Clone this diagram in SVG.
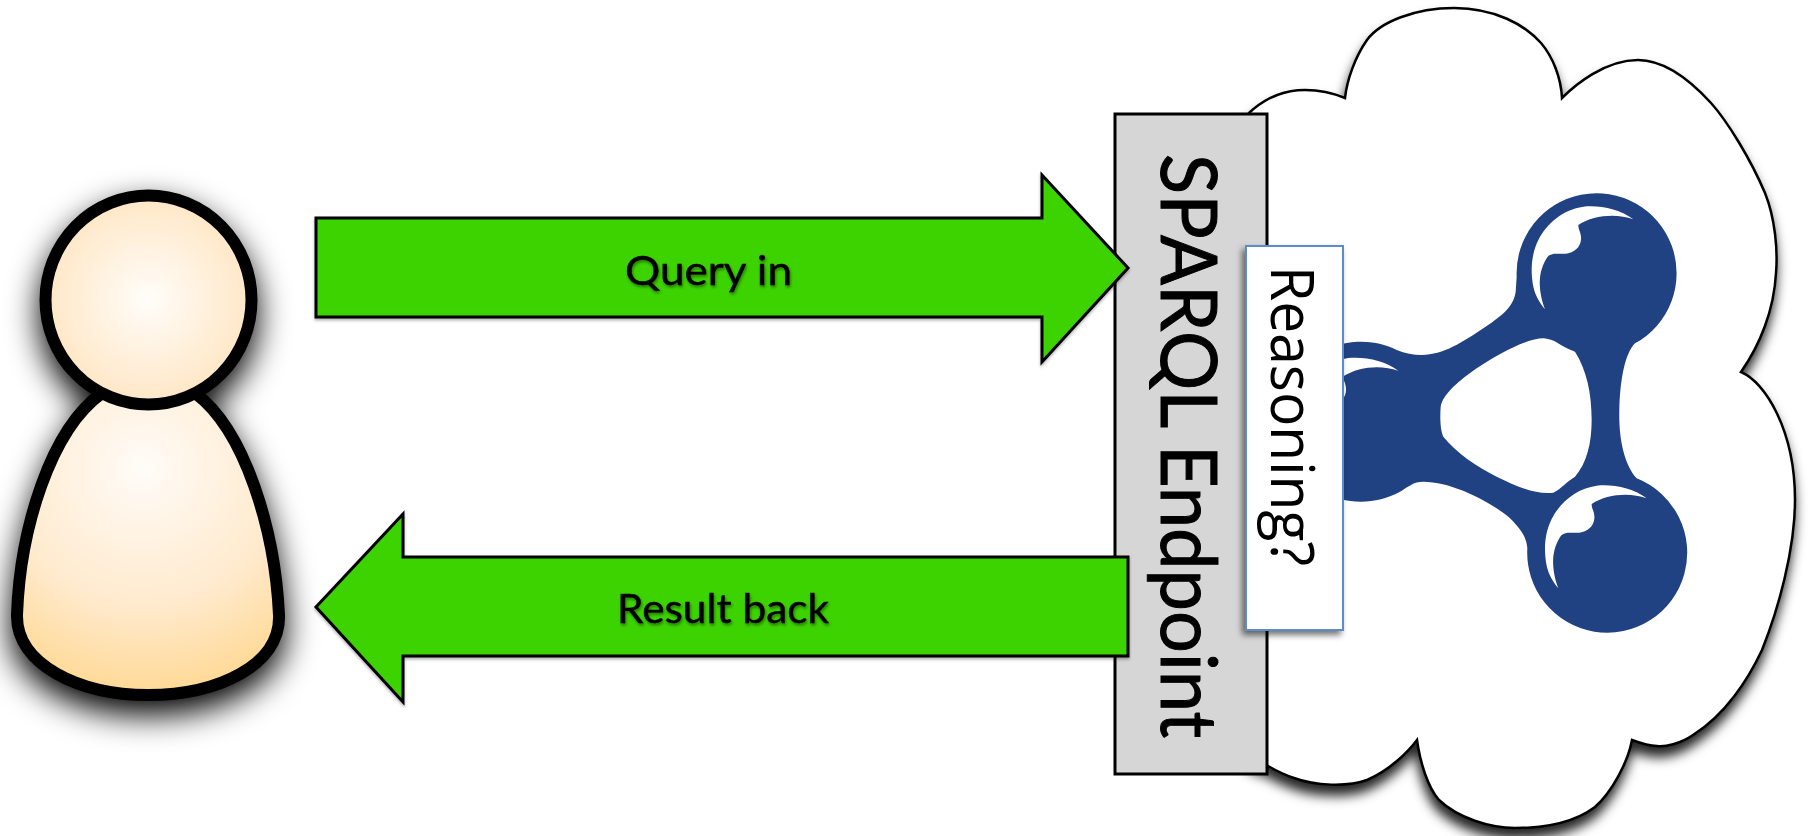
<svg xmlns="http://www.w3.org/2000/svg" xmlns:xlink="http://www.w3.org/1999/xlink" width="1808" height="836" viewBox="0 0 1808 836">
<style>
.arrow{fill:#3dd300;stroke:#000;stroke-width:3;stroke-linejoin:miter;filter:url(#small)}
.lbl{font-family:"Lato","Liberation Sans",sans-serif;fill:#000}
.person{stroke:#000;stroke-width:12}
.hl{fill:#fff}
</style>
<defs>
<filter id="big" x="-30%" y="-25%" width="160%" height="155%"><feDropShadow dx="0" dy="14" stdDeviation="16" flood-color="#000" flood-opacity="1"/></filter>
<filter id="cl" x="-10%" y="-10%" width="120%" height="120%"><feDropShadow dx="-1" dy="10" stdDeviation="6" flood-color="#000" flood-opacity=".85"/></filter>
<filter id="small" x="-5%" y="-10%" width="110%" height="120%"><feDropShadow dx="0" dy="2" stdDeviation="1.500" flood-color="#000" flood-opacity=".3"/></filter>
<filter id="box" x="-20%" y="-10%" width="140%" height="120%"><feDropShadow dx="-3" dy="4" stdDeviation="3" flood-color="#000" flood-opacity=".55"/></filter>
<filter id="ts" x="-10%" y="-20%" width="120%" height="140%"><feDropShadow dx="1" dy="2" stdDeviation="1.500" flood-color="#000" flood-opacity=".45"/></filter>
<radialGradient id="head" gradientUnits="userSpaceOnUse" cx="148" cy="299" r="108"><stop offset="0" stop-color="#fffdfa"/><stop offset="1" stop-color="#ffe6c4"/></radialGradient>
<radialGradient id="body" gradientUnits="userSpaceOnUse" cx="143" cy="468" r="232"><stop offset="0" stop-color="#fffcf8"/><stop offset=".6" stop-color="#ffeacd"/><stop offset="1" stop-color="#ffd892"/></radialGradient>
<path id="shine" class="hl" d="M910 118C870 88 810 75 760 80C700 88 650 130 625 180C605 220 600 270 610 320C615 345 630 370 645 388C632 355 625 310 632 280C636 260 645 240 655 228C670 215 695 225 715 220C745 212 755 190 753 170C752 155 745 150 745 135C790 105 860 100 910 118Z"/>
</defs>
<rect width="1808" height="836" fill="#fff"/>
<g id="cloud">
<path filter="url(#cl)" fill="#fff" stroke="#000" stroke-width="2.500" d="M1249 113C1265 98 1285 90 1305 90C1320 90 1333 93 1345 98C1347 80 1355 57 1367 40C1380 22 1415 8 1454 8C1495 8 1525 25 1541 43C1553 57 1561 78 1562 98C1575 85 1605 60 1638 60C1665 60 1690 80 1711 103C1728 122 1751 160 1765 193C1775 218 1778 250 1776 273C1774 310 1760 345 1741 372C1765 382 1795 430 1795 500C1795 550 1778 610 1762 650C1748 680 1725 715 1693 735C1680 744 1665 747 1657 746C1648 746 1640 743 1632 740C1628 762 1612 792 1595 807C1575 822 1545 828 1515 828C1490 828 1458 818 1439 800C1428 788 1420 762 1417 740C1408 752 1390 770 1367 780C1348 787 1315 786 1294 778C1285 775 1275 770 1268 766L1250 760Z"/>
</g>
<g id="logo">
<g transform="translate(1330 180) scale(.33333)">
<path fill="#204182" fill-rule="evenodd" d="M560 290A240 240 0 1 1 915 490C885 520 870 600 868 690C866 770 880 850 920 895A240 240 0 1 1 592 1105C590 1070 570 1045 540 1015C490 970 370 905 280 905C250 905 235 920 210 935A240 240 0 1 1 200 510C225 520 250 525 275 525C340 525 400 485 460 445C510 410 550 385 557 335ZM332 680C340 640 390 600 440 565C500 525 590 475 640 475C680 478 690 500 735 515C770 570 785 640 785 720C785 790 770 850 735 890C710 905 695 925 670 938C620 945 560 920 500 890C440 860 380 820 340 770C330 750 330 710 332 680Z"/>
<use xlink:href="#shine" href="#shine"/>
<use xlink:href="#shine" href="#shine" x="40" y="837"/>
<use xlink:href="#shine" href="#shine" x="-705" y="454"/>
</g>
</g>
<g id="sparql-endpoint">
<rect x="1115" y="114" width="152" height="660" fill="#d6d6d6" stroke="#000" stroke-width="3"/>
<text class="lbl" transform="translate(1161 154) rotate(90)" font-size="78" textLength="584" lengthAdjust="spacingAndGlyphs" stroke="#000" stroke-width="1">SPARQL Endpoint</text>
</g>
<g id="reasoning">
<rect x="1246" y="246" width="97" height="384" fill="#fff" stroke="#5b8ccb" stroke-width="2" filter="url(#box)"/>
<text transform="translate(1271 266) rotate(90)" font-family="'Open Sans','Liberation Sans',sans-serif" font-size="60" textLength="300" lengthAdjust="spacingAndGlyphs" fill="#000">Reasoning?</text>
</g>
<g id="user">
<g filter="url(#big)">
<path class="person" fill="url(#body)" d="M102 393C50 430 20 530 17 615C16 665 80 695 148 695C218 695 281 665 279 615C275 530 245 430 195 393Z"/>
<ellipse class="person" fill="url(#head)" cx="148.500" cy="300" rx="103" ry="104.500"/>
</g>
</g>
<g id="connectors">
<g id="query-in">
<path class="arrow" d="M316 218H1042V175L1128 268L1042 362V317H316Z"/>
<text class="lbl" x="625" y="285" font-size="41" textLength="167" lengthAdjust="spacingAndGlyphs" stroke="#000" stroke-width=".4" filter="url(#ts)">Query in</text>
</g>
<g id="result-back">
<path class="arrow" d="M1128 557H403V514L316 607L403 702V656H1128Z"/>
<text class="lbl" x="617" y="623" font-size="41" textLength="212" lengthAdjust="spacingAndGlyphs" stroke="#000" stroke-width=".4" filter="url(#ts)">Result back</text>
</g>
</g>
</svg>
